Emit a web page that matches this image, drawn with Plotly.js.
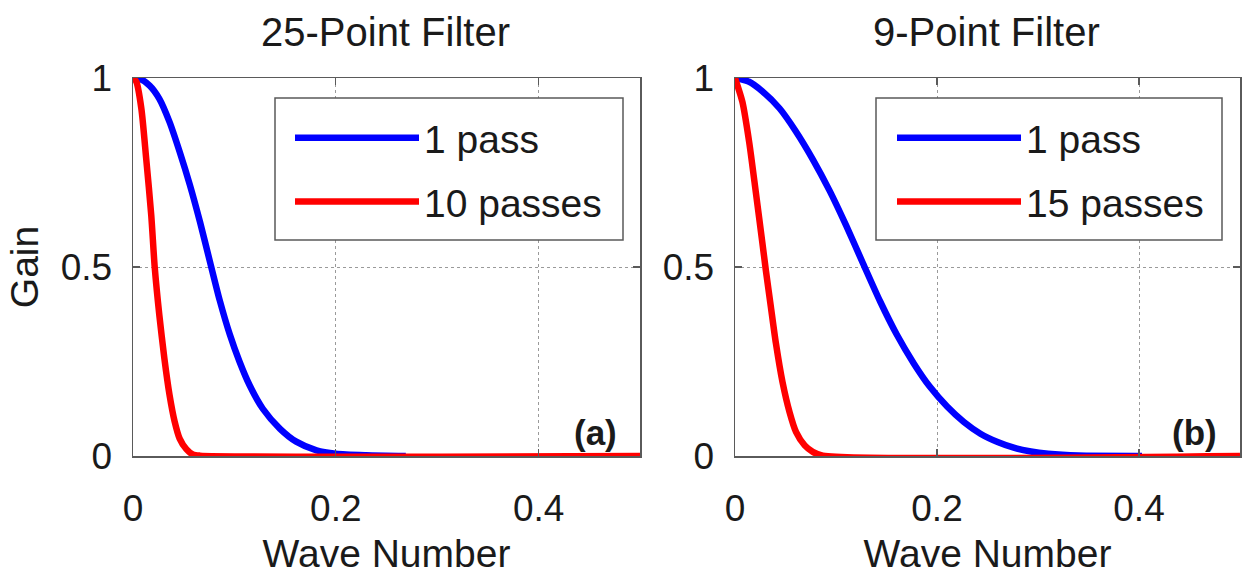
<!DOCTYPE html>
<html>
<head>
<meta charset="utf-8">
<script src="https://cdn.plot.ly/plotly-3.0.1.min.js"></script>
<style>html,body{margin:0;padding:0;background:#fff;}#chart{width:1244px;height:575px;}</style>
</head>
<body>
<div id="chart"></div>
<script>
// Panel (a): 25-point filter
const aPass1X = [0, 0.0066, 0.0164, 0.026, 0.036, 0.046, 0.056, 0.066, 0.0757, 0.0855, 0.0954, 0.105, 0.115, 0.128, 0.145, 0.161, 0.181, 0.2, 0.23, 0.269];
const aPass1G = [1, 0.998, 0.98, 0.945, 0.884, 0.805, 0.718, 0.62, 0.516, 0.412, 0.322, 0.25, 0.187, 0.125, 0.072, 0.038, 0.015, 0.006, 0.002, 0];
const aPass10X = [0, 0.0033, 0.0082, 0.013, 0.018, 0.0214, 0.026, 0.031, 0.036, 0.041, 0.046, 0.0526, 0.059, 0.066, 0.5];
const aPass10G = [1, 0.99, 0.92, 0.787, 0.637, 0.5, 0.372, 0.257, 0.162, 0.092, 0.046, 0.018, 0.004, 0.001, 0];
// Panel (b): 9-point filter
const bPass1X = [0, 0.014, 0.027, 0.044, 0.06, 0.077, 0.094, 0.11, 0.127, 0.1435, 0.16, 0.177, 0.193, 0.21, 0.2266, 0.243, 0.26, 0.276, 0.293, 0.31, 0.34, 0.403];
const bPass1G = [1, 0.99, 0.965, 0.92, 0.86, 0.785, 0.70, 0.61, 0.508, 0.41, 0.322, 0.245, 0.183, 0.131, 0.09, 0.059, 0.037, 0.022, 0.012, 0.006, 0.001, 0];
const bPass15X = [0, 0.0073, 0.014, 0.0206, 0.027, 0.0306, 0.0355, 0.0405, 0.047, 0.054, 0.0605, 0.069, 0.077, 0.087, 0.5];
const bPass15G = [1, 0.937, 0.831, 0.698, 0.566, 0.49, 0.395, 0.298, 0.196, 0.116, 0.063, 0.028, 0.011, 0.001, 0];

const panelTitles = ['25-Point Filter', '9-Point Filter'];
const panelTags = ['(a)', '(b)'];
const legendNames = ['1 pass', '10 passes', '1 pass', '15 passes'];
const xTickVals = [0, 0.2, 0.4];
const xTickText = ['0', '0.2', '0.4'];
const yTickVals = [0, 0.5, 1];
const yTickText = ['0', '0.5', '1'];

const FONT = 'Liberation Sans, Arial, sans-serif';
const FS = 37;
const TXT = '#1a1a1a';
const AX = '#5a5a5a';
const BLUE = '#0000ff', RED = '#ff0000';

function tr(x, y, name, xa, ya, leg, grp, color) {
  return {x: x, y: y, name: name, xaxis: xa, yaxis: ya, legend: leg, legendgroup: grp,
          mode: 'lines', line: {color: color, width: 6.5, shape: 'spline', smoothing: 0.7}, hoverinfo: 'skip'};
}
const traces = [
  tr(aPass1X, aPass1G, legendNames[0], 'x', 'y', 'legend', 'a1', BLUE),
  tr(aPass10X, aPass10G, legendNames[1], 'x', 'y', 'legend', 'a2', RED),
  tr(bPass1X, bPass1G, legendNames[2], 'x2', 'y2', 'legend2', 'b1', BLUE),
  tr(bPass15X, bPass15G, legendNames[3], 'x2', 'y2', 'legend2', 'b2', RED)
];

function xax(domain, anchor) {
  return {
    domain: domain, anchor: anchor, range: [0, 0.5], tickvals: xTickVals, ticktext: xTickText,
    showline: true, mirror: 'ticks', linecolor: AX, linewidth: 1.5,
    ticks: 'inside', ticklen: 7, tickcolor: AX, tickwidth: 1.2,
    showgrid: true, gridcolor: '#9a9a9a', griddash: 'dot', gridwidth: 1,
    zeroline: false, tickfont: {family: FONT, size: FS, color: TXT}, ticklabelstandoff: 19,
    title: {text: 'Wave Number', font: {family: FONT, size: 39, color: TXT}, standoff: 12},
    automargin: false, fixedrange: true
  };
}
function yax(domain, anchor, withTitle) {
  const a = {
    domain: domain, anchor: anchor, range: [0, 1], tickvals: yTickVals, ticktext: yTickText,
    showline: true, mirror: 'ticks', linecolor: AX, linewidth: 1.5,
    ticks: 'inside', ticklen: 7, tickcolor: AX, tickwidth: 1.2,
    showgrid: true, gridcolor: '#9a9a9a', griddash: 'dot', gridwidth: 1,
    zeroline: false, tickfont: {family: FONT, size: FS, color: TXT}, ticklabelstandoff: 12,
    automargin: false, fixedrange: true
  };
  if (withTitle) a.title = {text: 'Gain', font: {family: FONT, size: 39, color: TXT}, standoff: 10};
  return a;
}

const W = 1244, H = 575;
const yDom = [(H - 456) / H, (H - 78) / H];
const legendCommon = {
  bgcolor: 'rgba(0,0,0,0)', borderwidth: 0, font: {family: FONT, size: 39, color: TXT},
  itemwidth: 124, traceorder: 'grouped', tracegroupgap: 10, xanchor: 'left', yanchor: 'top'
};
function legendBox(x0, x1) {
  return {type: 'rect', xref: 'paper', yref: 'paper', x0: x0 / W, x1: x1 / W, y0: (H - 240) / H, y1: (H - 98) / H,
          line: {color: AX, width: 1.5}, fillcolor: '#ffffff', layer: 'above'};
}

const layout = {
  width: W, height: H, margin: {l: 0, r: 0, t: 0, b: 0},
  paper_bgcolor: '#fff', plot_bgcolor: '#fff', showlegend: true,
  xaxis: xax([133 / W, 640 / W], 'y'),
  yaxis: yax(yDom, 'x', true),
  xaxis2: xax([735 / W, 1240 / W], 'y2'),
  yaxis2: yax(yDom, 'x2', false),
  legend: Object.assign({x: 290 / W, y: (H - 106) / H}, legendCommon),
  legend2: Object.assign({x: 892 / W, y: (H - 106) / H}, legendCommon),
  shapes: [legendBox(275, 623), legendBox(876, 1222)],
  annotations: [
    {text: panelTitles[0], xref: 'paper', yref: 'paper', x: 385 / W, y: (H - 32) / H, showarrow: false,
     font: {family: FONT, size: 40, color: TXT}, xanchor: 'center', yanchor: 'middle'},
    {text: panelTitles[1], xref: 'paper', yref: 'paper', x: 986 / W, y: (H - 32) / H, showarrow: false,
     font: {family: FONT, size: 40, color: TXT}, xanchor: 'center', yanchor: 'middle'},
    {text: '<b>' + panelTags[0] + '</b>', xref: 'x domain', yref: 'y domain', x: 0.958, y: 0.063, showarrow: false,
     font: {family: FONT, size: 35, color: TXT}, xanchor: 'right', yanchor: 'middle'},
    {text: '<b>' + panelTags[1] + '</b>', xref: 'x2 domain', yref: 'y2 domain', x: 0.958, y: 0.063, showarrow: false,
     font: {family: FONT, size: 35, color: TXT}, xanchor: 'right', yanchor: 'middle'}
  ]
};

Plotly.newPlot('chart', traces, layout, {displayModeBar: false, staticPlot: true});
</script>
</body>
</html>
